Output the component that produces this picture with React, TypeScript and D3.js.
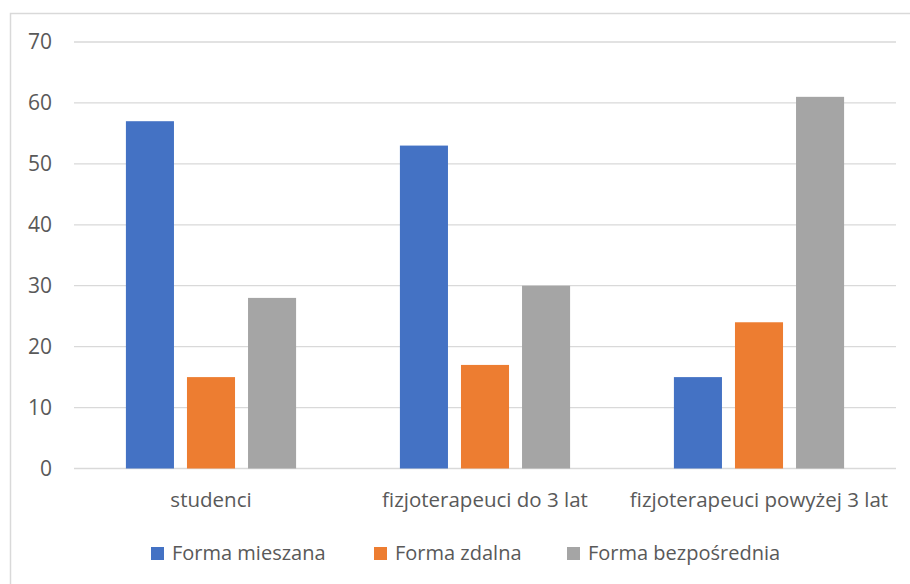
import React, { useEffect, useRef } from 'react';
import * as d3 from 'd3';

const categories = ['studenci', 'fizjoterapeuci do 3 lat', 'fizjoterapeuci powyżej 3 lat'];
const seriesNames = ['Forma mieszana', 'Forma zdalna', 'Forma bezpośrednia'];
const mieszana = [57, 53, 15];
const zdalna = [15, 17, 24];
const bezposrednia = [28, 30, 61];
const yTicks = [0, 10, 20, 30, 40, 50, 60, 70];
const colors = ['#4472c4', '#ed7d31', '#a5a5a5'];

const width = 910;
const height = 584;

export default function App() {
  const ref = useRef<SVGSVGElement>(null);

  useEffect(() => {
    const svg = d3.select(ref.current);
    svg.selectAll('*').remove();

    const font = "'Open Sans', 'Noto Sans', sans-serif";
    const series = [mieszana, zdalna, bezposrednia];

    // chart frame (right and bottom edges fall outside the picture)
    svg.append('rect')
      .attr('x', 10.5).attr('y', 13.5)
      .attr('width', 940).attr('height', 640)
      .attr('fill', 'white')
      .attr('stroke', '#d9d9d9')
      .attr('stroke-width', 1.5);

    const left = 74, right = 896, top = 42, bottom = 468.5;

    const y = d3.scaleLinear().domain([0, 70]).range([bottom, top]);
    const x0 = d3.scaleBand().domain(categories).range([left, right]);
    const x1 = d3.scaleBand()
      .domain(seriesNames)
      .range([0, x0.bandwidth()])
      .paddingInner(0.213)
      .paddingOuter(0.85);

    const g = svg.append('g');

    g.selectAll('line.grid')
      .data(yTicks)
      .enter()
      .append('line')
        .attr('class', 'grid')
        .attr('x1', left).attr('x2', right)
        .attr('y1', d => y(d)).attr('y2', d => y(d))
        .attr('stroke', '#d9d9d9')
        .attr('stroke-width', 1.3);

    g.selectAll('text.ytick')
      .data(yTicks)
      .enter()
      .append('text')
        .attr('class', 'ytick')
        .attr('x', 52)
        .attr('y', d => y(d))
        .attr('dy', '0.35em')
        .attr('text-anchor', 'end')
        .attr('font-family', font)
        .attr('font-size', 21)
        .attr('fill', '#595959')
        .text(d => d);

    seriesNames.forEach((name, si) => {
      g.selectAll('rect.s' + si)
        .data(series[si])
        .enter()
        .append('rect')
          .attr('class', 's' + si)
          .attr('x', (d, i) => (x0(categories[i]) as number) + (x1(name) as number))
          .attr('y', d => y(d))
          .attr('width', x1.bandwidth())
          .attr('height', d => bottom - y(d))
          .attr('fill', colors[si]);
    });

    g.selectAll('text.cat')
      .data(categories)
      .enter()
      .append('text')
        .attr('class', 'cat')
        .attr('x', d => (x0(d) as number) + x0.bandwidth() / 2)
        .attr('y', 507)
        .attr('text-anchor', 'middle')
        .attr('font-family', font)
        .attr('font-size', 20.5)
        .attr('fill', '#595959')
        .text(d => d);

    // legend
    const legendX = [151, 374, 567];
    const legend = g.selectAll('g.legend')
      .data(seriesNames)
      .enter()
      .append('g')
        .attr('class', 'legend')
        .attr('transform', (d, i) => `translate(${legendX[i]},0)`);
    legend.append('rect')
      .attr('x', 0).attr('y', 547)
      .attr('width', 13).attr('height', 13)
      .attr('fill', (d, i) => colors[i]);
    legend.append('text')
      .attr('x', 21)
      .attr('y', 560)
      .attr('font-family', font)
      .attr('font-size', 20)
      .attr('fill', '#595959')
      .text(d => d);
  }, []);

  return (
    <svg
      ref={ref}
      width={width}
      height={height}
      style={{ position: 'absolute', left: 0, top: 0, background: 'white' }}
    />
  );
}
